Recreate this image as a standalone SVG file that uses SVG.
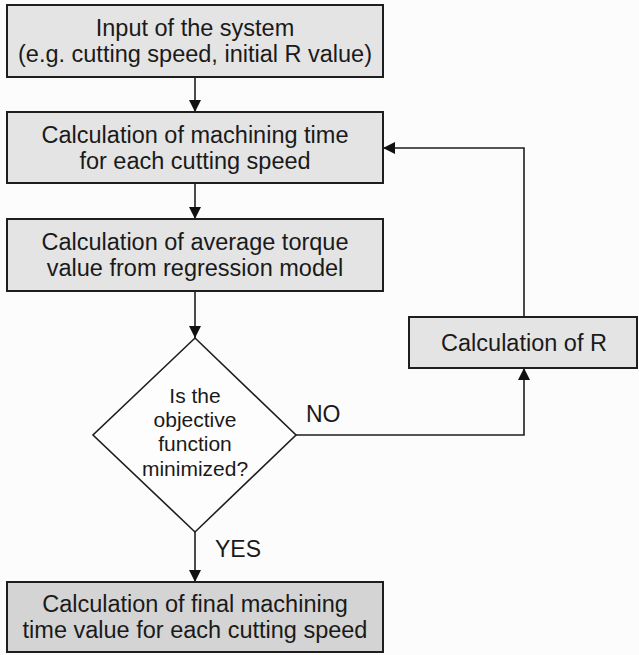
<svg xmlns="http://www.w3.org/2000/svg" width="639" height="655" viewBox="0 0 639 655">
<defs>
<style>
.box{fill:#e4e4e4;stroke:#1e1e1e;stroke-width:2}
.final{fill:#d4d4d4;stroke:#1e1e1e;stroke-width:2}
.dia{fill:#fdfdfd;stroke:#1e1e1e;stroke-width:1.6}
.t{font-family:"Liberation Sans",Arial,sans-serif;font-size:23.5px;fill:#1a1a1a;text-anchor:middle}
.td{font-family:"Liberation Sans",Arial,sans-serif;font-size:21px;fill:#1a1a1a;text-anchor:middle}
.lbl{font-family:"Liberation Sans",Arial,sans-serif;font-size:23px;fill:#1a1a1a}
.c{fill:none;stroke:#1e1e1e;stroke-width:1.6}
</style>
<marker id="ah" viewBox="0 0 12 12" refX="12" refY="6" markerWidth="12" markerHeight="12" markerUnits="userSpaceOnUse" orient="auto">
<path d="M0,0 L12,6 L0,12 Z" fill="#111"/>
</marker>
</defs>
<rect width="639" height="655" fill="#fcfcfc"/>
<g id="connectors">
<line class="c" x1="195" y1="77" x2="195" y2="112" marker-end="url(#ah)"/>
<line class="c" x1="195" y1="183" x2="195" y2="219" marker-end="url(#ah)"/>
<line class="c" x1="195" y1="291" x2="195" y2="338" marker-end="url(#ah)"/>
<line class="c" x1="195" y1="532" x2="195" y2="582" marker-end="url(#ah)"/>
<polyline class="c" points="296,435 524,435 524,368" marker-end="url(#ah)"/>
<polyline class="c" points="524,317 524,148 383,148" marker-end="url(#ah)"/>
<text class="lbl" x="306" y="422">NO</text>
<text class="lbl" x="215" y="557">YES</text>
</g>
<g id="input">
<rect class="box" x="7" y="5" width="376" height="72"/>
<text class="t" x="195" y="36">Input of the system</text>
<text class="t" x="195" y="62">(e.g. cutting speed, initial R value)</text>
</g>
<g id="machining-time">
<rect class="box" x="7" y="112" width="376" height="71"/>
<text class="t" x="195" y="142.5">Calculation of machining time</text>
<text class="t" x="195" y="168.5">for each cutting speed</text>
</g>
<g id="torque">
<rect class="box" x="7" y="219" width="376" height="72"/>
<text class="t" x="195" y="250">Calculation of average torque</text>
<text class="t" x="195" y="276">value from regression model</text>
</g>
<g id="decision">
<polygon class="dia" points="195,338 296,435 195,532 93,435"/>
<text class="td" x="195" y="403">Is the</text>
<text class="td" x="195" y="427">objective</text>
<text class="td" x="195" y="451">function</text>
<text class="td" x="195" y="476">minimized?</text>
</g>
<g id="calc-r">
<rect class="box" x="409" y="317" width="228" height="51"/>
<text class="t" x="524" y="351">Calculation of R</text>
</g>
<g id="final">
<rect class="final" x="7" y="582" width="376" height="70"/>
<text class="t" x="195" y="612">Calculation of final machining</text>
<text class="t" x="195" y="638">time value for each cutting speed</text>
</g>
</svg>
